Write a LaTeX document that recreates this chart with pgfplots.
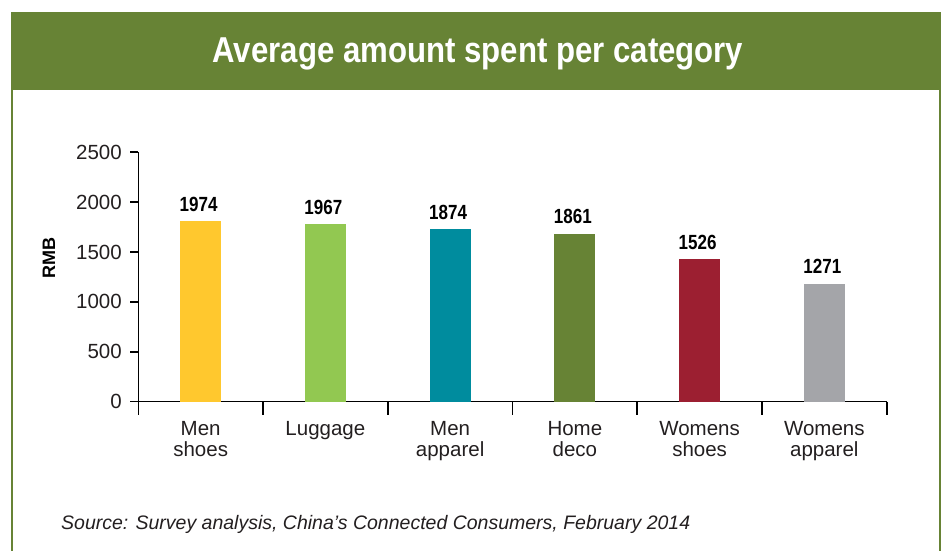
\documentclass[border=0pt]{standalone}
\usepackage{pgfplots}
\pgfplotsset{compat=1.18}
\usepackage{fontspec}
\setmainfont{Liberation Sans}
\newfontfamily\titlefont[FakeStretch=0.866]{Liberation Sans}
\newfontfamily\valfont[FakeStretch=0.83]{Liberation Sans}
\definecolor{bandgreen}{RGB}{103,131,53}
\definecolor{cyellow}{RGB}{255,200,46}
\definecolor{clgreen}{RGB}{146,200,81}
\definecolor{cteal}{RGB}{0,140,158}
\definecolor{cdgreen}{RGB}{103,131,53}
\definecolor{cred}{RGB}{156,31,49}
\definecolor{cgray}{RGB}{164,165,169}
\definecolor{txt}{RGB}{35,31,32}
\begin{document}
\begin{tikzpicture}[x=1bp,y=1bp]
\useasboundingbox (0,0) rectangle (944,551);
\fill[white] (0,0) rectangle (944,551);
% header band and side borders
\fill[bandgreen] (11,461.3) rectangle (940.7,539);
\fill[bandgreen] (11,0) rectangle (13,539);
\fill[bandgreen] (939,0) rectangle (940.7,539);
\node[anchor=base, text=white, inner sep=0pt] at (478,488.5)
  {\titlefont\bfseries\fontsize{36bp}{40bp}\selectfont Average amount spent per category};
% source
\node[anchor=base west, text=txt, inner sep=0pt] at (61,21)
  {\fontsize{19.5bp}{22bp}\selectfont\itshape Source: Survey analysis, China’s Connected Consumers, February 2014};
\begin{axis}[
  at={(138.3bp,149.3bp)}, anchor=south west,
  scale only axis, width=748.4bp, height=249.4bp,
  xmin=-0.5, xmax=5.5, ymin=0, ymax=2500,
  axis lines=left,
  axis line style={-, line width=1.6bp, black},
  ytick={0,500,1000,1500,2000,2500},
  xtick={0,1,2,3,4,5},
  xticklabels={Men\\shoes, Luggage, Men\\apparel, Home\\deco, Womens\\shoes, Womens\\apparel},
  tick align=outside,
  major tick length=8bp,
  tick style={line width=1.6bp, black},
  xtick style={draw=none},
  /pgf/number format/assume math mode=true,
  /pgf/number format/1000 sep={},
  ticklabel style={text=txt, font=\fontsize{20.5bp}{21.5bp}\selectfont},
  yticklabel style={xshift=-5bp},
  xticklabel style={align=center, yshift=-8bp},
  ylabel={RMB},
  every axis y label/.style={at={(axis description cs:-0.1193,0.576)}, rotate=90, anchor=center,
     font=\bfseries\fontsize{18bp}{19bp}\selectfont, text=black, inner sep=0pt},
  clip=false,
  point meta=explicit symbolic,
  nodes near coords,
  every node near coord/.append style={anchor=base, yshift=10bp, xshift=-2bp, text=black, inner sep=0pt,
     font=\valfont\bfseries\fontsize{20.5bp}{21bp}\selectfont},
]
\addplot[ybar, bar width=41bp, fill=cyellow, draw=none] coordinates {(0,1811) [1974]};
\addplot[ybar, bar width=41bp, fill=clgreen, draw=none] coordinates {(1,1781) [1967]};
\addplot[ybar, bar width=41bp, fill=cteal, draw=none] coordinates {(2,1731) [1874]};
\addplot[ybar, bar width=41bp, fill=cdgreen, draw=none] coordinates {(3,1681) [1861]};
\addplot[ybar, bar width=41bp, fill=cred, draw=none] coordinates {(4,1430) [1526]};
\addplot[ybar, bar width=41bp, fill=cgray, draw=none] coordinates {(5,1180) [1271]};
\pgfplotsinvokeforeach{-0.5,0.5,1.5,2.5,3.5,4.5,5.5}{
  \draw[line width=1.6bp, black] (axis cs:#1,0) -- ([yshift=-13bp]axis cs:#1,0);
}
\end{axis}
\end{tikzpicture}
\end{document}
